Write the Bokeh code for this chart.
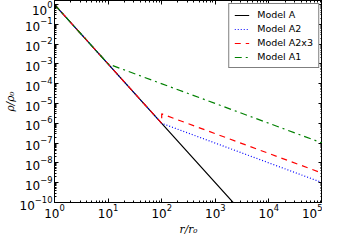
from bokeh.plotting import figure
from bokeh.models import LogAxis, FixedTicker, Legend, LegendItem, Range1d, CustomJSTickFormatter, Title
from bokeh.embed import file_html
from bokeh.resources import INLINE

# Data
r_A = [1, 100, 1e5]
rho_A = [1, 1e-6, 1e-15]
r_A2 = [1, 100, 1e5]
rho_A2 = [1, 1e-6, 1e-9]
r_A2x3 = [1, 100, 100, 1e5]
rho_A2x3 = [1, 1e-6, 3e-6, 3e-9]
r_A1 = [1, 10, 1e5]
rho_A1 = [1, 1e-3, 1e-7]

labels = ["Model A", "Model A2", "Model A2x3", "Model A1"]
colors = ["black", "#0000ff", "#ff0000", "#008000"]
dashes = ["solid", "1 2", "6 5", "7 4 2 4"]

# tick positions (decades)
x_ticks = [1, 10, 100, 1e3, 1e4, 1e5]
y_ticks = [1e-10, 1e-9, 1e-8, 1e-7, 1e-6, 1e-5, 1e-4, 1e-3, 1e-2, 1e-1, 1]
x_minor = [m * t for t in x_ticks[:-1] for m in range(2, 10)]
y_minor = [m * t for t in y_ticks for m in range(2, 10)]

p = figure(width=322, height=234, x_axis_type="log", y_axis_type="log",
           x_range=Range1d(1, 1e5), y_range=Range1d(1e-10, 1.6),
           output_backend="svg", toolbar_location=None,
           min_border_left=41, min_border_right=0, min_border_top=0, min_border_bottom=0)
p.grid.visible = False
p.outline_line_color = "black"
p.outline_line_width = 1
p.background_fill_color = "white"
p.border_fill_color = "white"

series = [(r_A, rho_A), (r_A2, rho_A2), (r_A2x3, rho_A2x3), (r_A1, rho_A1)]
renderers = []
for (xs, ys), c, d in zip(series, colors, dashes):
    renderers.append(p.line(xs, ys, line_color=c, line_width=1.2, line_dash=d))

def style_axis(ax, show_labels=True):
    ax.major_tick_in = 4
    ax.major_tick_out = 0
    ax.minor_tick_in = 2
    ax.minor_tick_out = 0
    ax.axis_line_color = "black"
    ax.major_tick_line_color = "black"
    ax.minor_tick_line_color = "black"
    ax.major_label_text_font = "DejaVu Sans"
    ax.major_label_text_font_size = "12px"
    ax.major_label_text_color = "black"
    ax.major_label_standoff = 2
    if not show_labels:
        ax.formatter = CustomJSTickFormatter(code="return ''")
        ax.major_label_standoff = 0
        ax.major_label_text_font_size = "1px"

xticker = FixedTicker(ticks=x_ticks, minor_ticks=x_minor)
yticker = FixedTicker(ticks=y_ticks, minor_ticks=y_minor)
p.xaxis.ticker = xticker
p.yaxis.ticker = yticker
style_axis(p.xaxis[0])
style_axis(p.yaxis[0])
p.xaxis.major_label_standoff = 1
p.yaxis.axis_label = "ρ/ρ₀"
p.yaxis.axis_label_text_font = "DejaVu Serif"
p.yaxis.axis_label_text_font_style = "italic"
p.yaxis.axis_label_text_font_size = "10.5px"
p.yaxis.axis_label_text_color = "black"
p.yaxis.axis_label_standoff = 1

top = LogAxis(ticker=xticker)
right = LogAxis(ticker=yticker)
style_axis(top, False)
style_axis(right, False)
p.add_layout(top, "above")
p.add_layout(right, "right")

# x axis title in its own panel under the tick labels
xtitle = Title(text="r/r₀", align="center", text_font="DejaVu Serif",
               text_font_style="italic", text_font_size="10.5px", text_color="black",
               standoff=0, offset=0)
p.add_layout(xtitle, "below")

legend = Legend(items=[LegendItem(label=l, renderers=[r]) for l, r in zip(labels, renderers)],
                location="top_right")
legend.label_text_font = "DejaVu Sans"
legend.label_text_font_size = "9.5px"
legend.label_text_color = "black"
legend.label_height = 10
legend.glyph_height = 10
legend.glyph_width = 15
legend.label_standoff = 8
legend.spacing = 3
legend.padding = 5
legend.margin = 3
legend.border_line_color = "black"
legend.border_line_width = 1
legend.background_fill_alpha = 1
p.add_layout(legend)

open("out.html", "w").write(file_html(p, INLINE))
